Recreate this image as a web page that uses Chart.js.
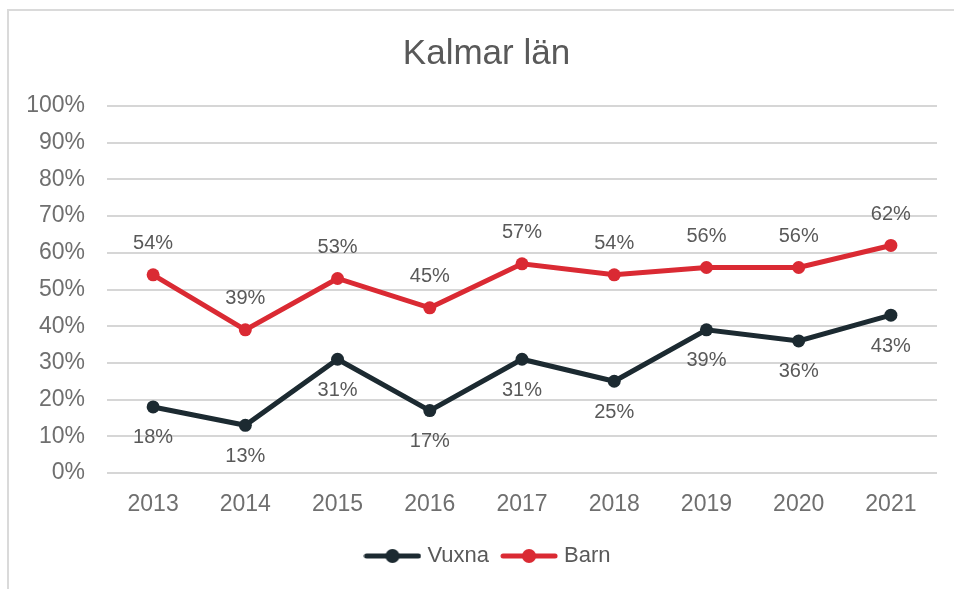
<!DOCTYPE html>
<html>
<head>
<meta charset="utf-8">
<script src="https://cdn.jsdelivr.net/npm/chart.js@4"></script>
<style>
  html, body { margin: 0; padding: 0; background: #ffffff; overflow: hidden; }
  #frame { position: absolute; left: 7px; top: 9px; width: 980px; height: 620px; border: 2px solid #dadada; box-sizing: border-box; }
  #wrap { position: absolute; left: 0; top: 0; width: 954px; height: 589px; }
</style>
</head>
<body>
<div id="frame"></div>
<div id="wrap"><canvas id="kalmar"></canvas></div>
<script>
const years = ["2013","2014","2015","2016","2017","2018","2019","2020","2021"];
const vuxna = [18, 13, 31, 17, 31, 25, 39, 36, 43];
const barn = [54, 39, 53, 45, 57, 54, 56, 56, 62];
const y_ticks = [0,10,20,30,40,50,60,70,80,90,100];

const dark = '#1c2a31';
const red = '#da2a33';
const FONT = '"Liberation Sans", Arial, sans-serif';

// legend symbol: short line with a dot in the middle
function legend_symbol(color){
  const c = document.createElement('canvas');
  c.width = 58; c.height = 16;
  const ctx = c.getContext('2d');
  ctx.strokeStyle = color;
  ctx.lineWidth = 5;
  ctx.lineCap = 'round';
  ctx.beginPath(); ctx.moveTo(3, 8); ctx.lineTo(55, 8); ctx.stroke();
  ctx.fillStyle = color;
  ctx.beginPath(); ctx.arc(29, 8, 7, 0, Math.PI*2); ctx.fill();
  return c;
}

// value labels: Barn above the points, Vuxna below
const point_labels = {
  id: 'point_labels',
  afterDatasetsDraw(chart){
    const ctx = chart.ctx;
    ctx.save();
    ctx.font = '20px ' + FONT;
    ctx.fillStyle = '#595959';
    ctx.textAlign = 'center';
    ctx.textBaseline = 'middle';
    chart.data.datasets.forEach((ds, i) => {
      const meta = chart.getDatasetMeta(i);
      meta.data.forEach((pt, j) => {
        const off = ds.label === 'Barn' ? -31 : 31;
        ctx.fillText(ds.data[j] + '%', pt.x, pt.y + off);
      });
    });
    ctx.restore();
  }
};

// title and legend sit centred on the whole frame, not on the chart box
const nudge = {
  id: 'nudge',
  afterLayout(chart){
    chart.titleBlock.left += 18; chart.titleBlock.right += 18;
    chart.legend.left += 21; chart.legend.right += 21;
  }
};

const canvas = document.getElementById('kalmar');
const chart = new Chart(canvas, {
  type: 'line',
  data: {
    labels: years,
    datasets: [
      {
        label: 'Vuxna',
        data: vuxna,
        borderColor: dark,
        backgroundColor: dark,
        borderWidth: 5,
        pointRadius: 6.5,
        pointHoverRadius: 6.5,
        pointBorderWidth: 0,
        tension: 0,
      },
      {
        label: 'Barn',
        data: barn,
        borderColor: red,
        backgroundColor: red,
        borderWidth: 5,
        pointRadius: 6.5,
        pointHoverRadius: 6.5,
        pointBorderWidth: 0,
        tension: 0,
      }
    ]
  },
  options: {
    responsive: true,
    maintainAspectRatio: false,
    animation: false,
    layout: { padding: { left: 0, right: 17, top: 0, bottom: 12 } },
    plugins: {
      title: {
        display: true,
        text: 'Kalmar län',
        color: '#595959',
        font: { family: FONT, size: 35, weight: 'normal', lineHeight: 1.2 },
        padding: { top: 33, bottom: 31 },
      },
      legend: {
        position: 'bottom',
        labels: {
          usePointStyle: true,
          pointStyleWidth: 48,
          boxHeight: 16,
          padding: 16,
          color: '#595959',
          font: { family: FONT, size: 22 },
          generateLabels(chart){
            const items = Chart.defaults.plugins.legend.labels.generateLabels(chart);
            items.forEach(it => { it.pointStyle = legend_symbol(chart.data.datasets[it.datasetIndex].borderColor); });
            return items;
          }
        }
      },
      tooltip: { enabled: false }
    },
    scales: {
      x: {
        offset: true,
        grid: { display: false, drawTicks: false },
        border: { display: false },
        ticks: { color: '#6f6f6f', font: { family: FONT, size: 23 }, padding: 18 },
        afterFit(scale){ scale.height = 56; }
      },
      y: {
        min: 0,
        max: 100,
        afterBuildTicks(scale){ scale.ticks = y_ticks.map(v => ({ value: v })); },
        grid: { color: '#d6d6d6', lineWidth: 2, drawTicks: false },
        border: { display: false },
        ticks: {
          color: '#6f6f6f',
          font: { family: FONT, size: 23 },
          padding: 22,
          callback: v => v + '%'
        },
        afterFit(scale){ scale.width = 107; }
      }
    }
  },
  plugins: [point_labels, nudge]
});
</script>
</body>
</html>
